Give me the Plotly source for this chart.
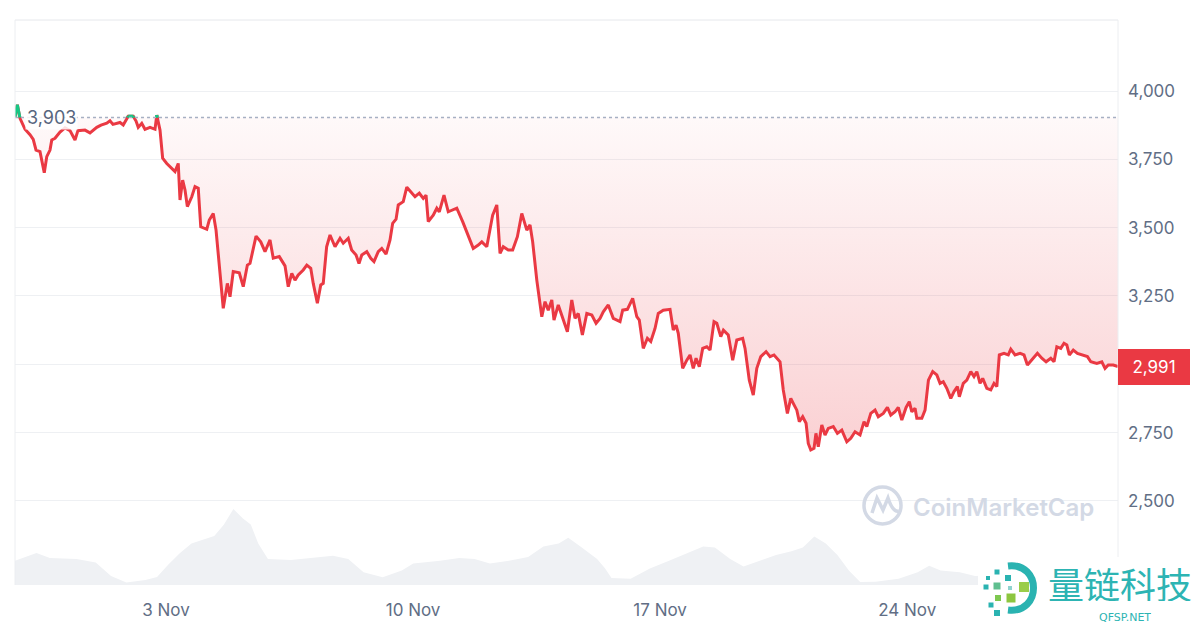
import pandas as pd
import plotly.graph_objects as go

# price trace, hours after 29 Oct 2025 17:20
hours = [0, 1.6, 3.4, 6.8, 10.2, 12.4, 14.3, 17.0, 19.9, 21.6,
         23.8, 25.0, 27.2, 30.6, 34.0, 37.4, 40.8, 42.8, 47.6, 51.0,
         55.6, 58.5, 62.4, 64.6, 66.6, 69.2, 71.4, 73.6, 77.0, 80.4,
         82.3, 83.8, 86.2, 88.4, 91.8, 95.2, 96.4, 98.6, 100.4, 103.2,
         106.6, 108.8, 111.0, 112.2, 114.0, 115.6, 117.2, 120.2, 122.4, 124.6,
         126.3, 130.4, 132.1, 134.8, 136.7, 139.4, 141.6, 144.4, 146.2, 148.4,
         152.5, 155.2, 158.0, 159.8, 163.9, 167.1, 170.0, 173.4, 175.6, 179.7,
         183.6, 185.8, 188.2, 190.4, 192.6, 196.0, 198.4, 201.1, 202.8, 205.6,
         207.9, 209.6, 211.9, 214.2, 217.6, 221.0, 223.2, 226.6, 228.9, 231.9,
         233.9, 235.8, 239.2, 241.9, 244.1, 247.0, 249.4, 252.3, 255.0, 256.8,
         259.1, 260.6, 264.0, 266.4, 269.1, 272.0, 274.9, 277.6, 279.5, 281.0,
         284.4, 286.8, 288.5, 291.7, 294.6, 298.0, 300.4, 304.4, 308.2, 311.6,
         315.0, 317.4, 320.8, 323.0, 324.8, 327.6, 329.8, 332.0, 335.4, 338.4,
         341.6, 344.6, 348.0, 350.2, 352.0, 354.8, 358.2, 360.4, 362.6, 365.0,
         366.5, 369.4, 372.8, 375.6, 378.6, 380.8, 383.0, 385.8, 388.8, 392.2,
         395.1, 397.8, 400.0, 403.4, 406.8, 411.4, 413.2, 416.4, 420.0, 422.8,
         424.5, 427.2, 430.0, 432.3, 435.2, 437.4, 440.8, 445.4, 447.6, 449.5,
         451.0, 454.0, 456.8, 459.0, 461.2, 463.1, 465.3, 467.6, 470.4, 472.6,
         475.3, 477.2, 479.9, 481.7, 485.0, 488.0, 490.8, 494.8, 496.4, 499.3,
         502.0, 504.4, 507.1, 510.7, 513.4, 516.1, 520.2, 522.4, 525.2, 527.5,
         529.2, 531.6, 533.3, 535.6, 537.9, 539.4, 541.1, 543.3, 544.6, 546.2,
         548.6, 550.8, 553.0, 556.4, 559.2, 562.2, 565.6, 568.3, 571.2, 574.6,
         577.3, 579.2, 581.9, 584.8, 587.0, 590.4, 593.2, 595.5, 598.4, 600.6,
         603.0, 605.9, 608.1, 609.8, 612.0, 613.2, 616.6, 618.8, 621.1, 624.0,
         626.8, 629.0, 631.2, 633.6, 636.3, 638.5, 640.8, 642.1, 644.8, 647.2,
         649.9, 652.1, 654.0, 656.2, 658.0, 660.8, 663.5, 665.7, 667.6, 669.3,
         672.5, 675.4, 677.1, 680.0, 683.4, 686.1, 688.4, 691.4, 695.2, 698.2,
         701.1, 704.3, 706.5, 708.4, 711.1, 713.3, 715.2, 716.9, 719.6, 722.4,
         726.0, 729.2, 731.5, 735.6, 739.0, 741.2, 743.4, 746.8, 750.0]

price = [3905, 3950, 3900, 3860, 3840, 3823, 3784, 3778, 3701, 3760,
         3784, 3821, 3827, 3850, 3865, 3855, 3821, 3855, 3857, 3847,
         3867, 3875, 3882, 3891, 3878, 3882, 3885, 3876, 3908, 3908,
         3890, 3867, 3882, 3860, 3867, 3860, 3912, 3857, 3754, 3735,
         3717, 3705, 3735, 3601, 3674, 3638, 3577, 3613, 3650, 3644,
         3503, 3494, 3528, 3552, 3491, 3333, 3205, 3296, 3247, 3339,
         3335, 3284, 3363, 3369, 3469, 3448, 3412, 3455, 3388, 3394,
         3360, 3284, 3333, 3308, 3327, 3345, 3363, 3351, 3296, 3223,
         3290, 3296, 3430, 3473, 3430, 3461, 3443, 3461, 3418, 3400,
         3369, 3400, 3412, 3388, 3376, 3412, 3424, 3403, 3455, 3516,
         3531, 3583, 3595, 3648, 3632, 3613, 3626, 3607, 3619, 3522,
         3546, 3571, 3558, 3619, 3558, 3564, 3571, 3522, 3473, 3424,
         3436, 3448, 3430, 3491, 3546, 3583, 3406, 3430, 3418, 3418,
         3467, 3552, 3491, 3510, 3448, 3308, 3174, 3229, 3198, 3235,
         3162, 3217, 3162, 3119, 3235, 3168, 3186, 3107, 3186, 3180,
         3150, 3168, 3192, 3217, 3168, 3156, 3198, 3201, 3241, 3174,
         3162, 3058, 3095, 3083, 3131, 3186, 3198, 3201, 3125, 3143,
         3113, 2985, 3015, 3034, 2985, 3022, 2991, 3058, 3064, 3052,
         3156, 3150, 3101, 3125, 3107, 3015, 3089, 3095, 3058, 2942,
         2887, 2985, 3028, 3046, 3028, 3034, 3009, 2906, 2820, 2875,
         2857, 2832, 2790, 2808, 2784, 2710, 2686, 2692, 2747, 2698,
         2778, 2741, 2765, 2772, 2747, 2759, 2716, 2729, 2753, 2741,
         2790, 2772, 2820, 2832, 2808, 2820, 2842, 2814, 2826, 2842,
         2796, 2842, 2863, 2826, 2839, 2802, 2802, 2832, 2942, 2973,
         2961, 2930, 2936, 2912, 2875, 2900, 2918, 2881, 2930, 2942,
         2973, 2955, 2973, 2930, 2948, 2912, 2906, 2930, 2918, 3034,
         3040, 3034, 3055, 3034, 3040, 3034, 2997, 3015, 3040, 3022,
         3009, 3022, 3009, 3064, 3058, 3077, 3071, 3034, 3052, 3040,
         3034, 3028, 3009, 3003, 3009, 2985, 2997, 2997, 2991]

# volume (bn USD), same time base
vol_hours = [0, 14.6, 23.7, 41.8, 54.9, 65.3, 75.7, 88.7, 96.6, 104.3,
             112.2, 120.0, 127.7, 135.5, 142.1, 148.5, 155.0, 160.3, 165.4, 172.0,
             187.6, 203.2, 216.2, 226.6, 237.0, 250.0, 263.0, 270.8, 289.0, 302.1,
             312.5, 322.9, 335.9, 348.9, 359.3, 369.7, 376.2, 385.4, 395.8, 401.0,
             405.6, 418.6, 431.7, 444.7, 457.6, 468.0, 475.9, 486.3, 495.4, 507.1,
             517.5, 528.0, 535.7, 543.5, 551.3, 559.2, 567.0, 574.7, 585.1, 600.8,
             613.8, 621.6, 629.4, 642.4, 652.8, 669.8, 697.0, 724.2, 750.0]
volume = [12.1, 16.0, 13.5, 13.0, 11.2, 4.5, 1.2, 2.5, 4.0, 10.2,
          16.0, 20.7, 22.6, 24.5, 30.3, 38.0, 33.2, 30.3, 20.7, 13.0,
          12.5, 13.5, 14.6, 13.0, 6.4, 3.9, 7.3, 10.8, 12.1, 13.5,
          13.0, 10.8, 12.1, 14.0, 19.2, 20.7, 23.6, 18.8, 13.0, 8.5,
          3.5, 3.1, 8.2, 12.1, 16.0, 19.2, 18.8, 13.0, 9.2, 12.1,
          15.0, 16.9, 18.8, 24.2, 20.7, 15.0, 7.3, 1.5, 1.6, 3.1,
          6.4, 9.6, 7.3, 6.4, 4.5, 5.0, 6.0, 5.0, 4.5]

open_price = 3903
last_price = 2991
y_ticks = [2500, 2750, 3000, 3250, 3500, 3750, 4000]
y_tick_text = ["2,500", "2,750", "", "3,250", "3,500", "3,750", "4,000"]  # 3,000 sits under the price tag
x_ticks = ["2025-11-03", "2025-11-10", "2025-11-17", "2025-11-24"]
x_tick_text = ["3 Nov", "10 Nov", "17 Nov", "24 Nov"]

RED = "#ea3943"
GREEN = "#16c784"
GREY_TXT = "#616e85"
GRID = "#eef0f3"
TEAL = "#2db4b3"

t0 = pd.Timestamp("2025-10-29 17:20")
times = t0 + pd.to_timedelta(hours, unit="h")
vtimes = t0 + pd.to_timedelta(vol_hours, unit="h")

# plot area in page pixels: x 15..1118, y 20..585 (page has an 8px body margin)
def px_x(px):
    return (px - 15) / 1103

def px_y(py):
    return (585 - py) / 565

fig = go.Figure()

# volume area at the bottom
fig.add_trace(go.Scatter(
    x=vtimes, y=volume, yaxis="y2", mode="lines",
    line=dict(width=0, color="#eff1f4"), fill="tozeroy", fillcolor="#eff1f4",
    hoverinfo="skip", showlegend=False,
))

# baseline for the fill
fig.add_trace(go.Scatter(
    x=times, y=[open_price] * len(times), mode="lines",
    line=dict(width=0), hoverinfo="skip", showlegend=False,
))

fig.add_trace(go.Scatter(
    x=times, y=price, mode="lines",
    line=dict(color=RED, width=3),
    fill="tonexty",
    fillgradient=dict(
        type="vertical", start=2650, stop=open_price,
        colorscale=[[0, "rgba(234,57,67,0.24)"], [1, "rgba(234,57,67,0.03)"]],
    ),
    hoverinfo="skip", showlegend=False,
))

# green pieces where price is above the open
gx, gy = [], []
for i in range(len(price) - 1):
    p0, p1 = price[i], price[i + 1]
    h0, h1 = hours[i], hours[i + 1]
    if p0 < open_price and p1 < open_price:
        continue
    if p0 >= open_price and p1 >= open_price:
        seg = [(h0, p0), (h1, p1)]
    else:
        hc = h0 + (open_price - p0) / (p1 - p0) * (h1 - h0)
        seg = [(hc, open_price), (h1, p1)] if p1 >= open_price else [(h0, p0), (hc, open_price)]
    for h, p in seg:
        gx.append(t0 + pd.Timedelta(hours=h))
        gy.append(p)
    gx.append(None)
    gy.append(None)

fig.add_trace(go.Scatter(
    x=gx, y=gy, mode="lines", line=dict(color=GREEN, width=3),
    connectgaps=False, hoverinfo="skip", showlegend=False,
))

shapes = [
    # dotted open-price line
    dict(type="line", xref="paper", yref="y", x0=0, x1=1, y0=open_price, y1=open_price,
         line=dict(color="#a6b0c3", width=1.5, dash="dot"), layer="above"),
    # frame
    dict(type="line", xref="paper", yref="paper", x0=0, x1=1, y0=1, y1=1,
         line=dict(color="#e6e8ec", width=1)),
    dict(type="line", xref="paper", yref="paper", x0=0, x1=0, y0=0, y1=1,
         line=dict(color="#eceef1", width=1)),
    dict(type="line", xref="paper", yref="paper", x0=1, x1=1, y0=0, y1=1,
         line=dict(color="#eceef1", width=1)),
    # CoinMarketCap watermark icon
    dict(type="circle", xref="paper", yref="paper",
         x0=px_x(864), x1=px_x(901), y0=px_y(524), y1=px_y(487),
         line=dict(color="#d3d9e5", width=3.5)),
    dict(type="path", xref="paper", yref="paper",
         path="M {},{} L {},{} L {},{} L {},{} Q {},{} {},{}".format(
             px_x(872), px_y(513), px_x(877), px_y(498), px_x(883), px_y(510),
             px_x(888), px_y(498), px_x(893), px_y(513), px_x(899), px_y(511)),
         line=dict(color="#d3d9e5", width=3.5)),
    # QFSP logo backdrop
    dict(type="rect", xref="paper", yref="paper",
         x0=px_x(978), x1=px_x(1200), y0=px_y(625), y1=px_y(557),
         fillcolor="white", line=dict(width=0), layer="above"),
    dict(type="path", xref="paper", yref="paper", layer="above",
         path="M {},{} C {},{} {},{} {},{}".format(
             px_x(1008), px_y(566), px_x(1042), px_y(562),
             px_x(1042), px_y(614), px_x(1008), px_y(610)),
         line=dict(color="#2ab3b1", width=7)),
]

squares = [
    (988, 578, 4, "#2ab3b1"), (997, 572, 5, "#2ab3b1"), (986, 587, 5, "#2ab3b1"),
    (997, 586, 7, "#5fbf8f"), (1008, 578, 6, "#2ab3b1"), (1024, 587, 10, "#9acd4a"),
    (998, 598, 6, "#7ec850"), (1011, 598, 9, "#8dc63f"), (991, 605, 5, "#2ab3b1"),
    (997, 613, 6, "#2ab3b1"), (1010, 588, 4, "#8fd3cf"),
]
for cx, cy, s, c in squares:
    shapes.append(dict(type="rect", xref="paper", yref="paper", layer="above",
                       x0=px_x(cx - s / 2), x1=px_x(cx + s / 2),
                       y0=px_y(cy + s / 2), y1=px_y(cy - s / 2),
                       fillcolor=c, line=dict(width=0)))

annotations = [
    dict(text="{:,}".format(open_price), xref="paper", x=px_x(25), xanchor="left",
         yref="y", y=open_price, yanchor="middle", showarrow=False,
         font=dict(family="Inter", size=18, color="#58667e"),
         bgcolor="rgba(255,255,255,0.85)", borderpad=1),
    dict(text="{:,}".format(last_price), xref="paper", x=1, xanchor="left",
         yref="y", y=last_price, yanchor="middle", showarrow=False,
         font=dict(family="Inter", size=17, color="white"),
         bgcolor=RED, bordercolor=RED, borderwidth=1, borderpad=3, width=64, height=28),
    dict(text="CoinMarketCap", xref="paper", x=px_x(1003), xanchor="center",
         yref="paper", y=px_y(507), yanchor="middle", showarrow=False,
         font=dict(family="Inter", size=24, color="#d3d9e5", weight=600)),
    dict(text="量链科技", xref="paper", x=px_x(1120), xanchor="center",
         yref="paper", y=px_y(583), yanchor="middle", showarrow=False,
         font=dict(family="Noto Sans CJK SC", size=36, color=TEAL), height=36),
    dict(text="QFSP.NET", xref="paper", x=px_x(1125), xanchor="center",
         yref="paper", y=px_y(617), yanchor="middle", showarrow=False,
         font=dict(family="DejaVu Sans", size=11, color=TEAL), height=12),
]

fig.update_layout(
    width=1192, height=617,
    margin=dict(l=7, r=82, t=12, b=40, autoexpand=False),
    paper_bgcolor="white", plot_bgcolor="white",
    hovermode=False,
    font=dict(family="Inter", size=17, color=GREY_TXT),
    xaxis=dict(
        type="date",
        range=[t0, t0 + pd.Timedelta(hours=750)],
        tickvals=x_ticks, ticktext=x_tick_text,
        showgrid=False, zeroline=False, showline=False, ticks="",
        ticklabelstandoff=13,
        tickfont=dict(size=17, color=GREY_TXT),
    ),
    yaxis=dict(
        side="right", range=[2192, 4260],
        tickvals=y_ticks, ticktext=y_tick_text,
        showgrid=True, gridcolor=GRID, gridwidth=1,
        zeroline=False, showline=False, ticks="",
        ticklabelstandoff=9,
        tickfont=dict(size=17, color=GREY_TXT),
    ),
    yaxis2=dict(overlaying="y", range=[0, 282.5], visible=False),
    shapes=shapes,
    annotations=annotations,
)

fig.write_html("out.html")
